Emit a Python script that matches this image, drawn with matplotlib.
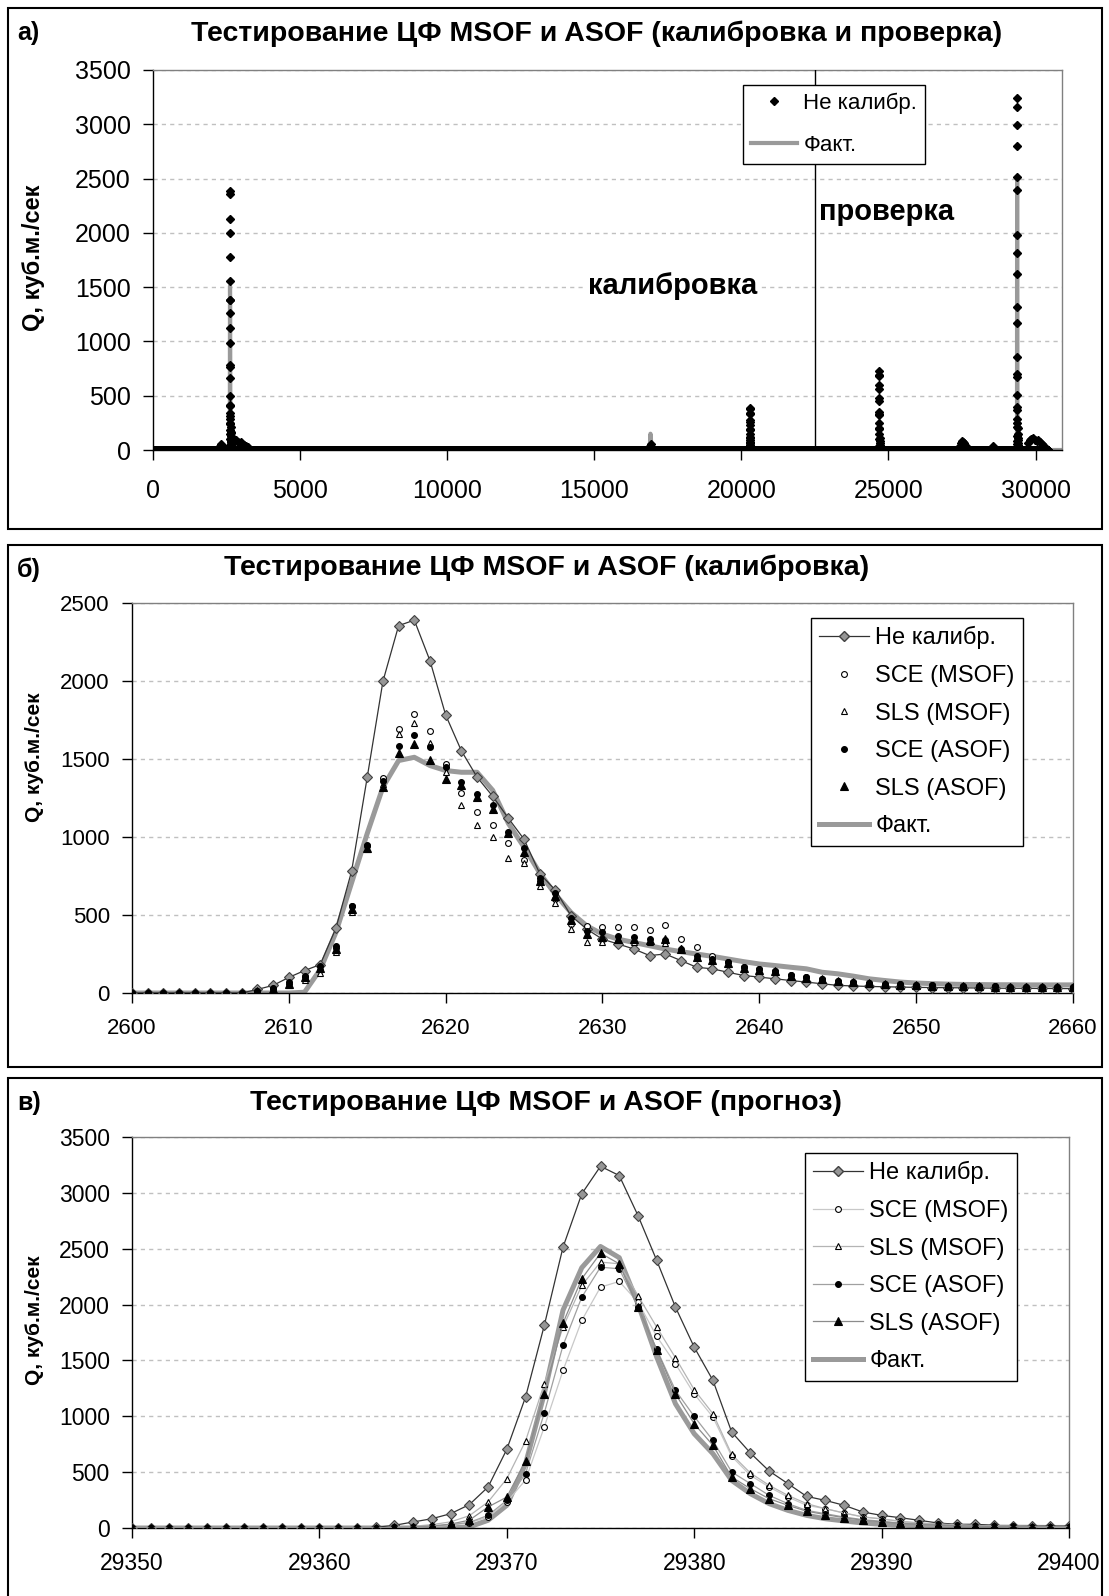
import numpy as np
import matplotlib
matplotlib.use('Agg')
import matplotlib.pyplot as plt
from matplotlib.patches import Rectangle
from matplotlib.lines import Line2D

plt.rcParams['font.family'] = ['Liberation Sans', 'DejaVu Sans']

W, H = 1109, 1596

# ---------- панель б) калибровка, часы 2600..2660 ----------
hours_b = np.arange(2600, 2661)
nekal_b = [0, 0, 0, 0, 0, 0, 0, 0, 23, 49, 100, 144, 182, 415, 780, 1384, 1998, 2355, 2390, 2130,
           1782, 1553, 1384, 1261, 1120, 985, 765, 659, 494, 409, 345, 314, 282, 240, 250, 208, 165, 155, 133, 112,
           102, 91, 80, 70, 59, 49, 45, 42, 40, 38, 36, 35, 34, 33, 32, 31, 30, 30, 29, 29, 28]
sce_msof_b = [0, 0, 0, 0, 0, 0, 0, 0, 10, 25, 60, 100, 150, 290, 560, 940, 1380, 1690, 1790, 1680,
              1470, 1280, 1160, 1080, 960, 850, 720, 600, 440, 430, 420, 426, 426, 405, 434, 345, 292, 240, 197, 165,
              155, 144, 117, 102, 91, 80, 70, 65, 60, 56, 52, 49, 47, 45, 43, 42, 41, 40, 39, 38, 38]
sls_msof_b = [0, 0, 0, 0, 0, 0, 0, 0, 8, 20, 50, 85, 130, 260, 520, 920, 1340, 1660, 1730, 1600,
              1415, 1204, 1076, 1002, 865, 833, 684, 580, 409, 328, 324, 345, 330, 325, 320, 290, 240, 210, 185, 160,
              150, 140, 112, 98, 86, 76, 66, 60, 55, 51, 47, 44, 42, 40, 39, 38, 37, 36, 35, 35, 35]
sce_asof_b = [0, 0, 0, 0, 0, 0, 0, 0, 12, 30, 70, 110, 170, 300, 560, 950, 1360, 1585, 1653, 1574,
              1447, 1352, 1274, 1204, 1034, 928, 740, 640, 480, 400, 388, 367, 356, 345, 340, 282, 240, 218, 197, 165,
              155, 144, 117, 102, 91, 80, 72, 66, 60, 56, 52, 49, 47, 45, 44, 42, 41, 40, 40, 39, 39]
sls_asof_b = [0, 0, 0, 0, 0, 0, 0, 0, 10, 25, 60, 100, 160, 280, 540, 928, 1320, 1536, 1596, 1494,
              1373, 1331, 1257, 1182, 1023, 907, 720, 620, 470, 380, 360, 345, 345, 340, 345, 282, 230, 210, 190, 160,
              150, 140, 112, 98, 88, 78, 70, 64, 58, 54, 50, 47, 45, 43, 42, 40, 39, 38, 38, 37, 37]
fact_b = [0, 0, 0, 0, 0, 0, 0, 0, 0, 0, 0, 5, 150, 388, 706, 1023, 1320, 1490, 1511, 1458,
          1426, 1415, 1415, 1299, 1087, 935, 769, 631, 515, 430, 377, 345, 324, 303, 282, 265, 250, 235, 218, 201,
          186, 176, 165, 155, 133, 123, 108, 91, 80, 70, 64, 60, 57, 55, 54, 53, 53, 52, 52, 52, 52]

# ---------- панель в) прогноз, часы 29350..29400 ----------
hours_c = np.arange(29350, 29401)
nekal_c = [0] * 13 + [5, 24, 54, 83, 128, 209, 367, 704, 1172, 1813,
                      2514, 2991, 3238, 3155, 2797, 2395, 1977, 1619, 1321, 859,
                      671, 510, 397, 283, 247, 203, 143, 113, 92, 69,
                      45, 33, 33, 24, 15, 15, 15, 15]
sce_msof_c = [0] * 14 + [5, 10, 15, 25, 45, 98, 233, 430, 904, 1410,
                         1858, 2156, 2207, 2022, 1715, 1470, 1200, 993, 641, 471,
                         367, 277, 203, 173, 134, 98, 83, 60, 45, 35,
                         27, 22, 18, 15, 13, 12, 12]
sls_msof_c = [0] * 14 + [8, 15, 30, 55, 110, 233, 441, 778, 1291, 1798,
                         2171, 2380, 2365, 2081, 1798, 1524, 1238, 1023, 659, 492,
                         382, 292, 218, 173, 134, 100, 80, 60, 45, 35,
                         27, 22, 18, 15, 13, 12, 12]
sce_asof_c = [0] * 14 + [5, 10, 15, 30, 50, 113, 248, 486, 1029, 1634,
                         2066, 2335, 2320, 1977, 1600, 1232, 999, 784, 501, 397,
                         292, 218, 158, 128, 98, 75, 60, 45, 35, 28,
                         22, 18, 15, 12, 12, 12, 12]
sls_asof_c = [0] * 14 + [5, 10, 18, 35, 70, 188, 277, 600, 1202, 1834,
                         2231, 2460, 2365, 1977, 1595, 1200, 933, 740, 456, 352,
                         262, 203, 150, 120, 92, 70, 55, 42, 32, 26,
                         20, 16, 14, 12, 12, 12, 12]
fact_c = [0] * 18 + [10, 69, 203, 575, 1202, 1950, 2330, 2520, 2420, 2007,
                     1530, 1112, 844, 665, 426, 307, 218, 158, 113, 83,
                     63, 45, 33, 25, 20, 15, 12, 10, 8, 7,
                     6, 5, 5]

# ---------- панель а) весь ряд ----------
baseline_x = np.arange(0, 30441, 4)          # фоновый расход ~0
spike_20300_x = np.arange(20285, 20309)
spike_20300 = [10, 30, 60, 110, 180, 260, 340, 390, 375, 330, 280, 230, 190, 150, 120, 95, 75, 60,
               45, 35, 25, 20, 15, 10]
spike_24700_x = np.arange(24680, 24705)
spike_24700 = [10, 40, 100, 200, 330, 480, 600, 690, 730, 680, 560, 450, 350, 320, 250, 190, 150, 110,
               80, 60, 45, 30, 20, 15, 10]
bump_x = [2250, 2300, 2350, 2700, 2760, 2820, 2880, 2940, 3000, 3080, 3160, 3240, 16900, 16930,
          27420, 27460, 27500, 27540, 27580, 27620, 28540,
          29740, 29800, 29860, 29920, 29980, 30040, 30100, 30160, 30220, 30280]
bump_y = [30, 55, 35, 60, 85, 90, 75, 60, 70, 50, 40, 30, 40, 55,
          40, 65, 80, 75, 60, 40, 35,
          60, 90, 100, 110, 95, 85, 90, 70, 55, 35]
spike_16900_x = [16880, 16900, 16910, 16920, 16935, 16960]
spike_16900_fact = [0, 90, 150, 130, 60, 0]

nekal_a_x = np.concatenate([baseline_x, bump_x, hours_b, spike_20300_x, spike_24700_x, hours_c])
nekal_a_y = np.concatenate([np.zeros(len(baseline_x)), bump_y, nekal_b, spike_20300, spike_24700, nekal_c])
fact_a_x = np.concatenate([[0], hours_b, [2720], spike_16900_x, hours_c, [29460, 30900]])
fact_a_y = np.concatenate([[0], fact_b, [0], spike_16900_fact, fact_c, [0, 0]])

FACT = '#9a9a9a'

fig = plt.figure(figsize=(W / 100, H / 100), dpi=100)


def add_ax(l, t, r, b):
    return fig.add_axes([l / W, 1 - b / H, (r - l) / W, (b - t) / H])


def box(l, t, r, b):
    fig.add_artist(Rectangle((l / W, 1 - b / H), (r - l) / W, (b - t) / H, transform=fig.transFigure,
                             fill=False, lw=1.5, ec='black'))


def style(ax, xpad, size):
    for s in ['left', 'bottom']:
        ax.spines[s].set_color('black')
        ax.spines[s].set_linewidth(1)
    for s in ['top', 'right']:
        ax.spines[s].set_color('#808080')
        ax.spines[s].set_linewidth(1)
    ax.yaxis.grid(True, color='#c0c0c0', linestyle=(0, (3, 3)), lw=1)
    ax.set_axisbelow(True)
    ax.tick_params(direction='out', length=7, width=1, labelsize=size)
    ax.tick_params(axis='y', pad=9)
    ax.tick_params(axis='x', pad=xpad)


def txt(x, y, s, **kw):
    fig.text(x / W, 1 - y / H, s, **kw)


def legend(ax, hs, labs, x, y, size, ls):
    lg = ax.legend(hs, labs, loc='upper left', bbox_to_anchor=(x / W, 1 - y / H),
                   bbox_transform=fig.transFigure, borderaxespad=0, fontsize=size, fancybox=False,
                   edgecolor='black', framealpha=1, borderpad=0.35, labelspacing=ls, handlelength=2.1,
                   handletextpad=0.27, numpoints=1)
    lg.get_frame().set_linewidth(1)
    lg.set_zorder(10)


box(8, 8, 1102, 529)
box(8, 545, 1102, 1067)
box(8, 1078, 1102, 1620)

# ===== а) =====
ax1 = add_ax(153, 70, 1062, 450)
style(ax1, 14, 18)
ax1.plot(fact_a_x, fact_a_y, color=FACT, lw=3, zorder=2)
ax1.plot(nekal_a_x, nekal_a_y, ls='none', marker='D', ms=4.3, color='black', zorder=3)
ax1.axvline(22500, color='black', lw=1, zorder=4)
ax1.set_xlim(0, 30900)
ax1.set_ylim(0, 3500)
ax1.set_xticks(range(0, 30001, 5000))
ax1.set_yticks(range(0, 3501, 500))
ax1.text(17650, 1510, 'калибровка', fontsize=21, fontweight='bold', ha='center', va='center',
         bbox=dict(facecolor='white', edgecolor='none', pad=2), zorder=5)
ax1.text(22640, 2190, 'проверка', fontsize=21, fontweight='bold', ha='left', va='center', zorder=5)
h1 = [Line2D([], [], ls='none', marker='D', ms=4.3, color='black'),
      Line2D([], [], color=FACT, lw=3)]
legend(ax1, h1, ['Не калибр.', 'Факт.'], 743, 85, 16, 0.95)

txt(17, 33, 'а)', fontsize=18, fontweight='bold', va='center')
txt(597, 34, 'Тестирование ЦФ MSOF и ASOF (калибровка и проверка)', fontsize=20.5, fontweight='bold',
    ha='center', va='center')
txt(34, 258, 'Q, куб.м./сек', fontsize=17, fontweight='bold', rotation=90, ha='center', va='center')


def draw_detail(ax, hrs, nk, s1, s2, s3, s4, fc, with_lines):
    ax.plot(hrs, fc, color=FACT, lw=3.6, zorder=2, solid_capstyle='butt')
    ax.plot(hrs, nk, color='#333333', lw=0.9, marker='D', ms=5.5, mfc='#969696', mec='#404040', mew=0.8,
            zorder=4)
    lcols = ['#c8c8c8', '#b4b4b4', '#a0a0a0', '#8c8c8c']
    marks = [('o', 'white', 4.2), ('^', 'white', 5), ('o', 'black', 4.2), ('^', 'black', 5.2)]
    for ys, (m, fcol, ms), lc in zip([s1, s2, s3, s4], marks, lcols):
        ax.plot(hrs, ys, ls='-' if with_lines else 'none', color=lc, lw=0.9, marker=m, ms=ms, mfc=fcol,
                mec='black', mew=0.8, zorder=5)
    hs = [Line2D([], [], color='#333333', lw=0.9, marker='D', ms=5.5, mfc='#969696', mec='#404040')]
    for (m, fcol, ms), lc in zip(marks, lcols):
        hs.append(Line2D([], [], ls='-' if with_lines else 'none', color=lc, lw=0.9, marker=m, ms=ms,
                         mfc=fcol, mec='black', mew=0.8))
    hs.append(Line2D([], [], color=FACT, lw=3.6))
    return hs


labels = ['Не калибр.', 'SCE (MSOF)', 'SLS (MSOF)', 'SCE (ASOF)', 'SLS (ASOF)', 'Факт.']

# ===== б) =====
ax2 = add_ax(132, 603, 1073, 993)
style(ax2, 11, 16)
hs = draw_detail(ax2, hours_b, nekal_b, sce_msof_b, sls_msof_b, sce_asof_b, sls_asof_b, fact_b, False)
ax2.set_xlim(2600, 2660)
ax2.set_ylim(0, 2500)
ax2.set_xticks(range(2600, 2661, 10))
ax2.set_yticks(range(0, 2501, 500))
legend(ax2, hs, labels, 811, 618, 17, 0.66)
txt(17, 570, 'б)', fontsize=18, fontweight='bold', va='center')
txt(547, 568, 'Тестирование ЦФ MSOF и ASOF (калибровка)', fontsize=20.5, fontweight='bold',
    ha='center', va='center')
txt(34, 757, 'Q, куб.м./сек', fontsize=15, fontweight='bold', rotation=90, ha='center', va='center')

# ===== в) =====
ax3 = add_ax(132, 1137, 1069, 1528)
style(ax3, 10, 16.5)
hs = draw_detail(ax3, hours_c, nekal_c, sce_msof_c, sls_msof_c, sce_asof_c, sls_asof_c, fact_c, True)
ax3.set_xlim(29350, 29400)
ax3.set_ylim(0, 3500)
ax3.set_xticks(range(29350, 29401, 10))
ax3.set_xticklabels([str(v) for v in range(29350, 29401, 10)])
ax3.set_yticks(range(0, 3501, 500))
legend(ax3, hs, labels, 805, 1153, 17, 0.66)
txt(17, 1103, 'в)', fontsize=18, fontweight='bold', va='center')
txt(546, 1103, 'Тестирование ЦФ MSOF и ASOF (прогноз)', fontsize=20.5, fontweight='bold',
    ha='center', va='center')
txt(34, 1320, 'Q, куб.м./сек', fontsize=15, fontweight='bold', rotation=90, ha='center', va='center')

fig.savefig('out.png', dpi=100, facecolor='white')
